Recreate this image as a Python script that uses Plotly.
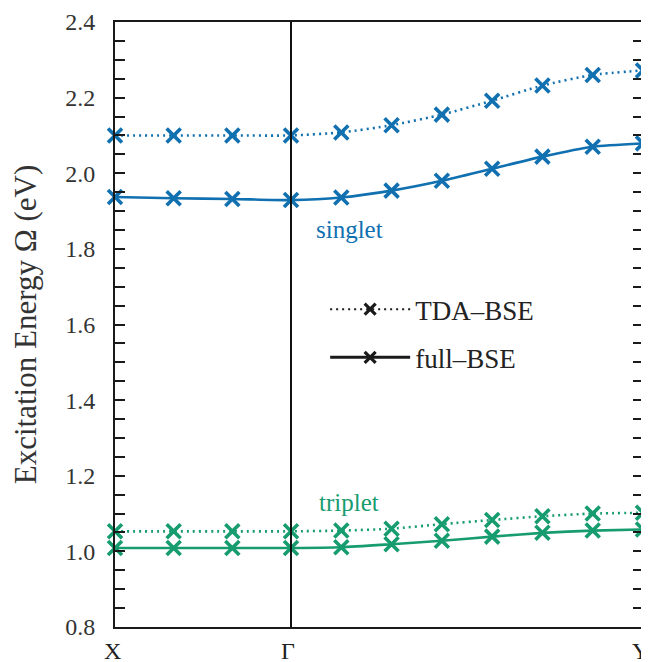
import plotly.graph_objects as go

# k-path positions: X -> Gamma (3 steps), Gamma -> Y (7 steps), Gamma-Y twice as long
k_xg = [0, 1/3, 2/3, 1]
k_gy = [1 + 2*i/7 for i in range(1, 8)]
k = k_xg + k_gy

tick_pos = [0, 1, 3]
tick_labels = ["X", "Γ", "Y"]

singlet_tda = [2.100, 2.100, 2.100, 2.100, 2.108, 2.127, 2.155, 2.192, 2.232, 2.260, 2.272]
singlet_full = [1.937, 1.934, 1.932, 1.929, 1.936, 1.954, 1.980, 2.012, 2.044, 2.070, 2.079]
triplet_tda = [1.053, 1.053, 1.053, 1.053, 1.055, 1.060, 1.072, 1.083, 1.093, 1.100, 1.102]
triplet_full = [1.009, 1.009, 1.009, 1.009, 1.011, 1.019, 1.028, 1.039, 1.049, 1.055, 1.058]

BLUE = "#1070b0"
GREEN = "#179c70"
FONT = "Times New Roman, Liberation Serif, serif"
DOT = "2px,4px"

fig = go.Figure()

def add(y, color, dash):
    fig.add_trace(go.Scatter(
        x=k, y=y, mode="lines+markers", showlegend=False,
        line=dict(color=color, width=2.6, dash=dash, shape="spline", smoothing=0.6),
        marker=dict(symbol="x-thin", size=14, line=dict(color=color, width=3.6)),
        cliponaxis=False,
    ))

add(singlet_tda, BLUE, DOT)
add(singlet_full, BLUE, "solid")
add(triplet_tda, GREEN, DOT)
add(triplet_full, GREEN, "solid")

# legend entries
fig.add_trace(go.Scatter(x=[None], y=[None], mode="lines+markers", name="TDA–BSE",
                         legendgroup="a",
                         line=dict(color="#1a1a1a", width=2, dash=DOT),
                         marker=dict(symbol="x-thin", size=11, line=dict(color="#1a1a1a", width=3.2))))
fig.add_trace(go.Scatter(x=[None], y=[None], mode="lines+markers", name="full–BSE",
                         legendgroup="b",
                         line=dict(color="#1a1a1a", width=3),
                         marker=dict(symbol="x-thin", size=11, line=dict(color="#1a1a1a", width=3.2))))

fig.add_vline(x=1, line=dict(color="#111111", width=2))

fig.add_annotation(x=1.335, y=1.85, text="singlet", showarrow=False,
                   font=dict(family=FONT, size=25, color=BLUE), xanchor="center")
fig.add_annotation(x=1.33, y=1.13, text="triplet", showarrow=False,
                   font=dict(family=FONT, size=25, color=GREEN), xanchor="center")

# k-point labels below the axis, placed at the tick positions
for pos, lab in zip(tick_pos, tick_labels):
    fig.add_annotation(x=pos, xref="x", y=0, yref="paper", yanchor="top",
                       xanchor="center", yshift=-9, xshift=-3,
                       text=lab, showarrow=False,
                       font=dict(family=FONT, size=24, color="#222222"))

# page has an 8px body margin, so the figure is sized to fit the 649x662 window
fig.update_layout(
    width=641, height=654,
    margin=dict(l=107, r=6, t=14, b=35, autoexpand=False),
    plot_bgcolor="white", paper_bgcolor="white",
    font=dict(family=FONT, size=24, color="#333333"),
    legend=dict(x=0.398, y=0.565, xanchor="left", yanchor="top",
                bgcolor="rgba(0,0,0,0)", itemwidth=80, tracegroupgap=10,
                font=dict(family=FONT, size=27, color="#222222")),
    xaxis=dict(range=[0, 3], tickvals=tick_pos, showticklabels=False,
               automargin=False,
               showline=True, linecolor="#1a1a1a", linewidth=1.8, mirror=True,
               showgrid=False, zeroline=False, ticks=""),
    yaxis=dict(range=[0.8, 2.4], dtick=0.2, tickformat=".1f",
               automargin=False, ticklabeloverflow="allow",
               showline=True, linecolor="#1a1a1a", linewidth=1.8, mirror="ticks",
               showgrid=False, zeroline=False, ticks="inside", ticklen=10,
               tickwidth=1.8, tickcolor="#1a1a1a", ticklabelstandoff=13,
               minor=dict(dtick=0.05, ticks="inside", ticklen=10, tickwidth=1.8, tickcolor="#1a1a1a"),
               tickfont=dict(family=FONT, size=24, color="#333333"),
               title=dict(text="Excitation Energy Ω (eV)", standoff=26,
                          font=dict(family=FONT, size=31, color="#333333"))),
)

fig.write_html("out.html")
